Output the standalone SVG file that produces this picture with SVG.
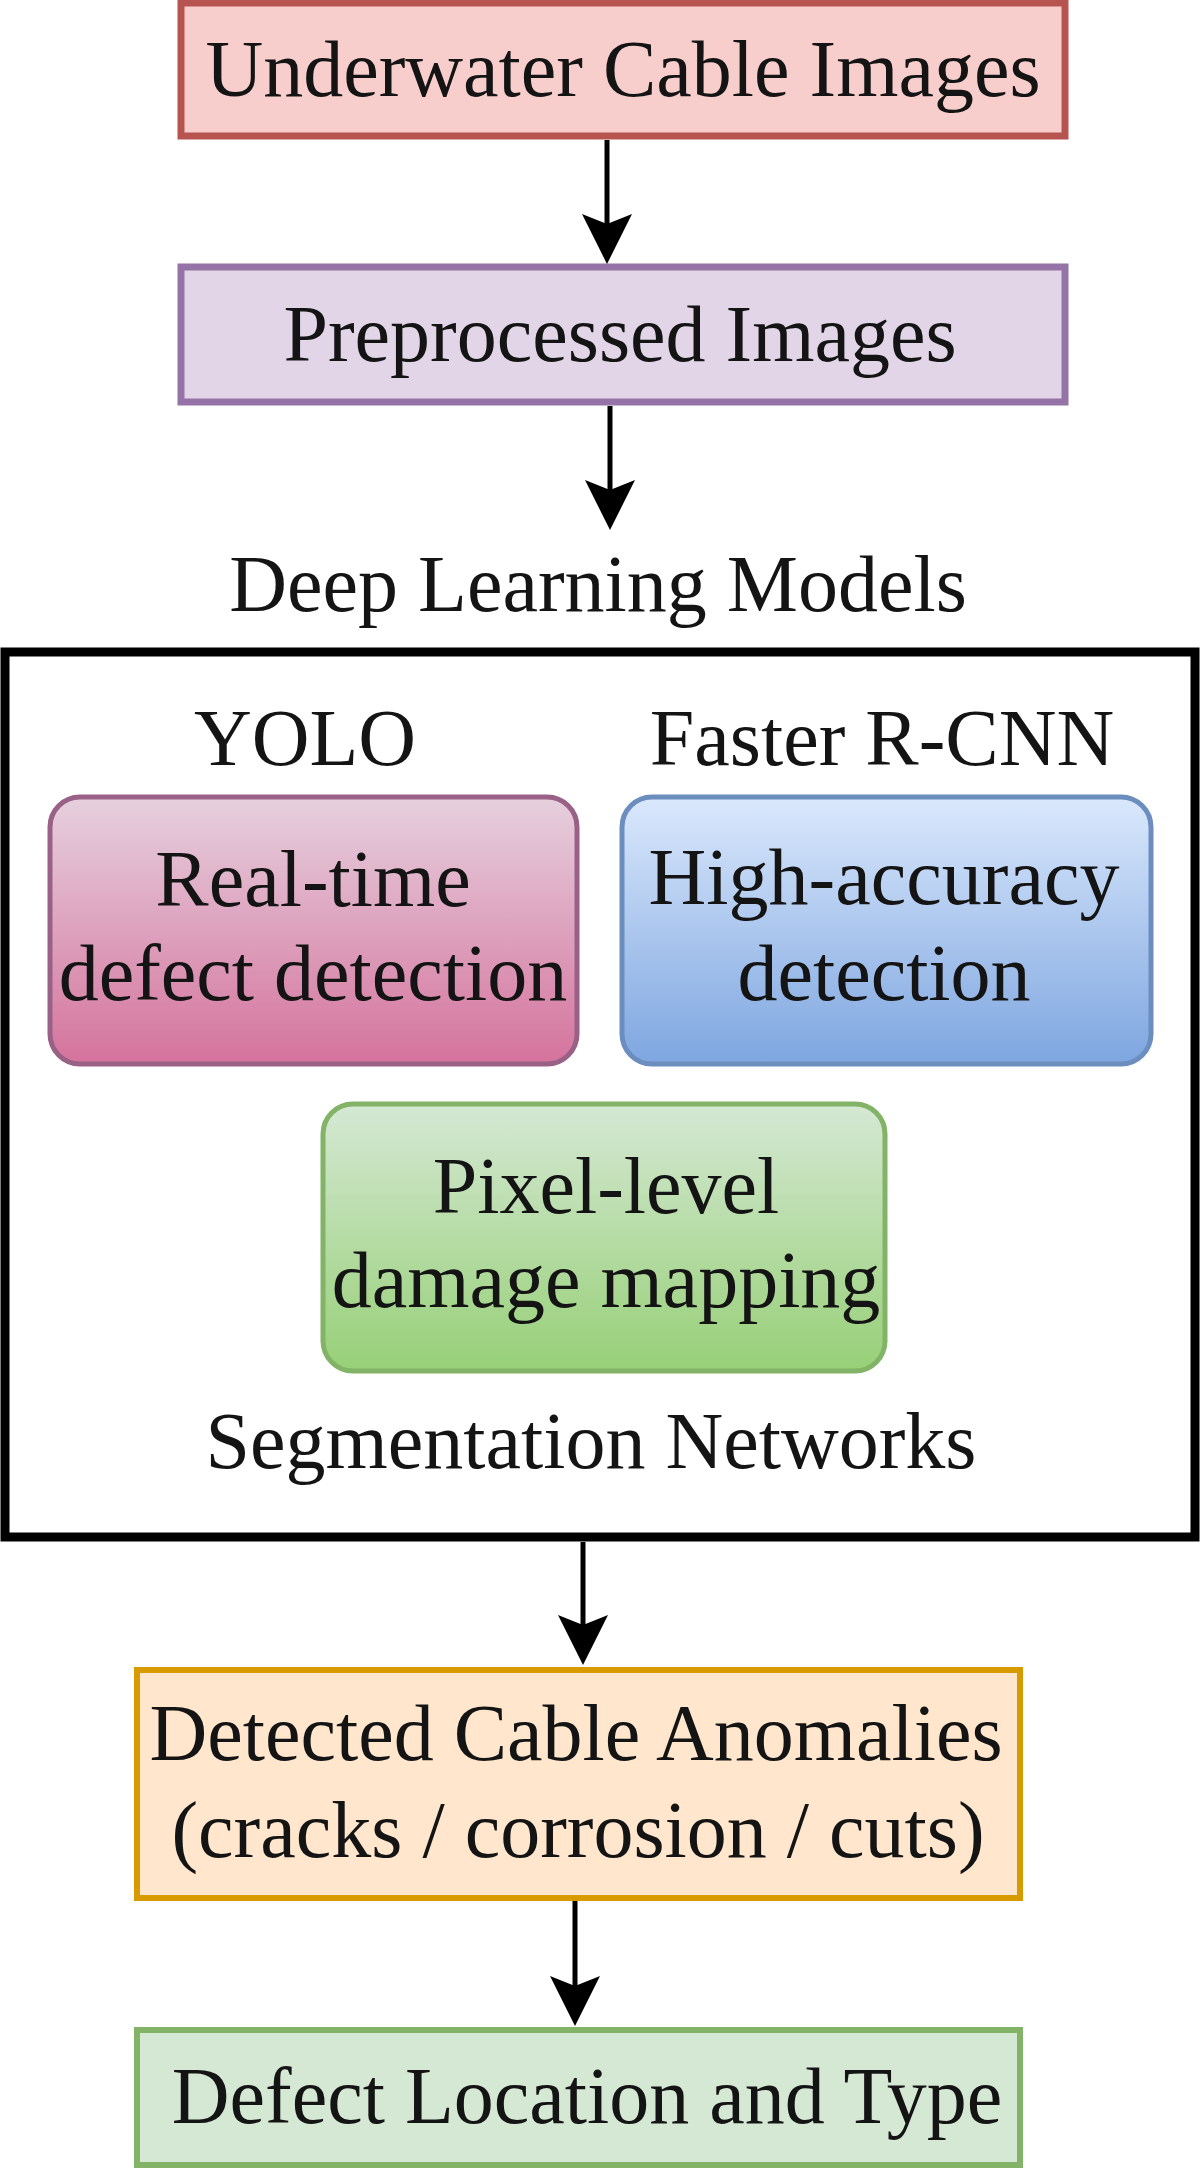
<svg xmlns="http://www.w3.org/2000/svg" width="1200" height="2168" viewBox="0 0 1200 2168">
  <style>
    text { font-family: "Liberation Serif", "Times New Roman", serif; font-size: 80px; fill: #141414; text-anchor: middle; }
    .conn { stroke: #000; stroke-width: 5; fill: none; }
  </style>
  <defs>
    <marker id="arr" markerUnits="userSpaceOnUse" viewBox="0 0 50 50" refX="10" refY="25" markerWidth="50" markerHeight="50" orient="auto">
      <path d="M0,0 L50,25 L0,50 L10,25 Z" fill="#000"/>
    </marker>
    <linearGradient id="gPink" x1="0" y1="0" x2="0" y2="1">
      <stop offset="0" stop-color="#e6d0de"/>
      <stop offset="1" stop-color="#d5739d"/>
    </linearGradient>
    <linearGradient id="gBlue" x1="0" y1="0" x2="0" y2="1">
      <stop offset="0" stop-color="#dae8fc"/>
      <stop offset="1" stop-color="#7ea6e0"/>
    </linearGradient>
    <linearGradient id="gGreen" x1="0" y1="0" x2="0" y2="1">
      <stop offset="0" stop-color="#d5e8d4"/>
      <stop offset="1" stop-color="#97d077"/>
    </linearGradient>
  </defs>
  <rect width="1200" height="2168" fill="#fff"/>

  <g id="n-underwater">
    <rect x="181" y="3" width="884" height="133" fill="#f8cecc" stroke="#b85450" stroke-width="7"/>
    <text x="623" y="96">Underwater Cable Images</text>
  </g>

  <g id="n-preprocessed">
    <rect x="181" y="267" width="884" height="135" fill="#e1d5e7" stroke="#9673a6" stroke-width="7"/>
    <text x="620" y="361">Preprocessed Images</text>
  </g>

  <g id="n-deep-learning">
    <text x="598" y="611">Deep Learning Models</text>
    <rect x="5" y="652" width="1190" height="885" fill="none" stroke="#000" stroke-width="9"/>
    <text x="305" y="765">YOLO</text>
    <text x="882" y="765">Faster R-CNN</text>
  </g>

  <g id="n-yolo">
    <rect x="50" y="797" width="527" height="267" rx="30" ry="30" fill="url(#gPink)" stroke="#996185" stroke-width="5"/>
    <text x="313" y="906">Real-time</text>
    <text x="313" y="1000">defect detection</text>
  </g>

  <g id="n-faster-rcnn">
    <rect x="622" y="797" width="529" height="267" rx="30" ry="30" fill="url(#gBlue)" stroke="#6c8ebf" stroke-width="5"/>
    <text x="884" y="904">High-accuracy</text>
    <text x="884" y="1000">detection</text>
  </g>

  <g id="n-segmentation">
    <rect x="323" y="1104" width="562" height="267" rx="30" ry="30" fill="url(#gGreen)" stroke="#82b366" stroke-width="5"/>
    <text x="606" y="1213">Pixel-level</text>
    <text x="606" y="1307">damage mapping</text>
    <text x="591" y="1468">Segmentation Networks</text>
  </g>

  <g id="n-anomalies">
    <rect x="137" y="1670" width="883" height="228" fill="#ffe6cc" stroke="#d79b00" stroke-width="6"/>
    <text x="576" y="1760">Detected Cable Anomalies</text>
    <text x="578" y="1857">(cracks / corrosion / cuts)</text>
  </g>

  <g id="n-location">
    <rect x="137" y="2030" width="883" height="135" fill="#d5e8d4" stroke="#82b366" stroke-width="6"/>
    <text x="587" y="2123">Defect Location and Type</text>
  </g>

  <g id="connectors">
    <line class="conn" x1="607" y1="140" x2="607" y2="224" marker-end="url(#arr)"/>
    <line class="conn" x1="610" y1="406" x2="610" y2="490" marker-end="url(#arr)"/>
    <line class="conn" x1="583" y1="1542" x2="583" y2="1625" marker-end="url(#arr)"/>
    <line class="conn" x1="575" y1="1901" x2="575" y2="1986" marker-end="url(#arr)"/>
  </g>
</svg>
